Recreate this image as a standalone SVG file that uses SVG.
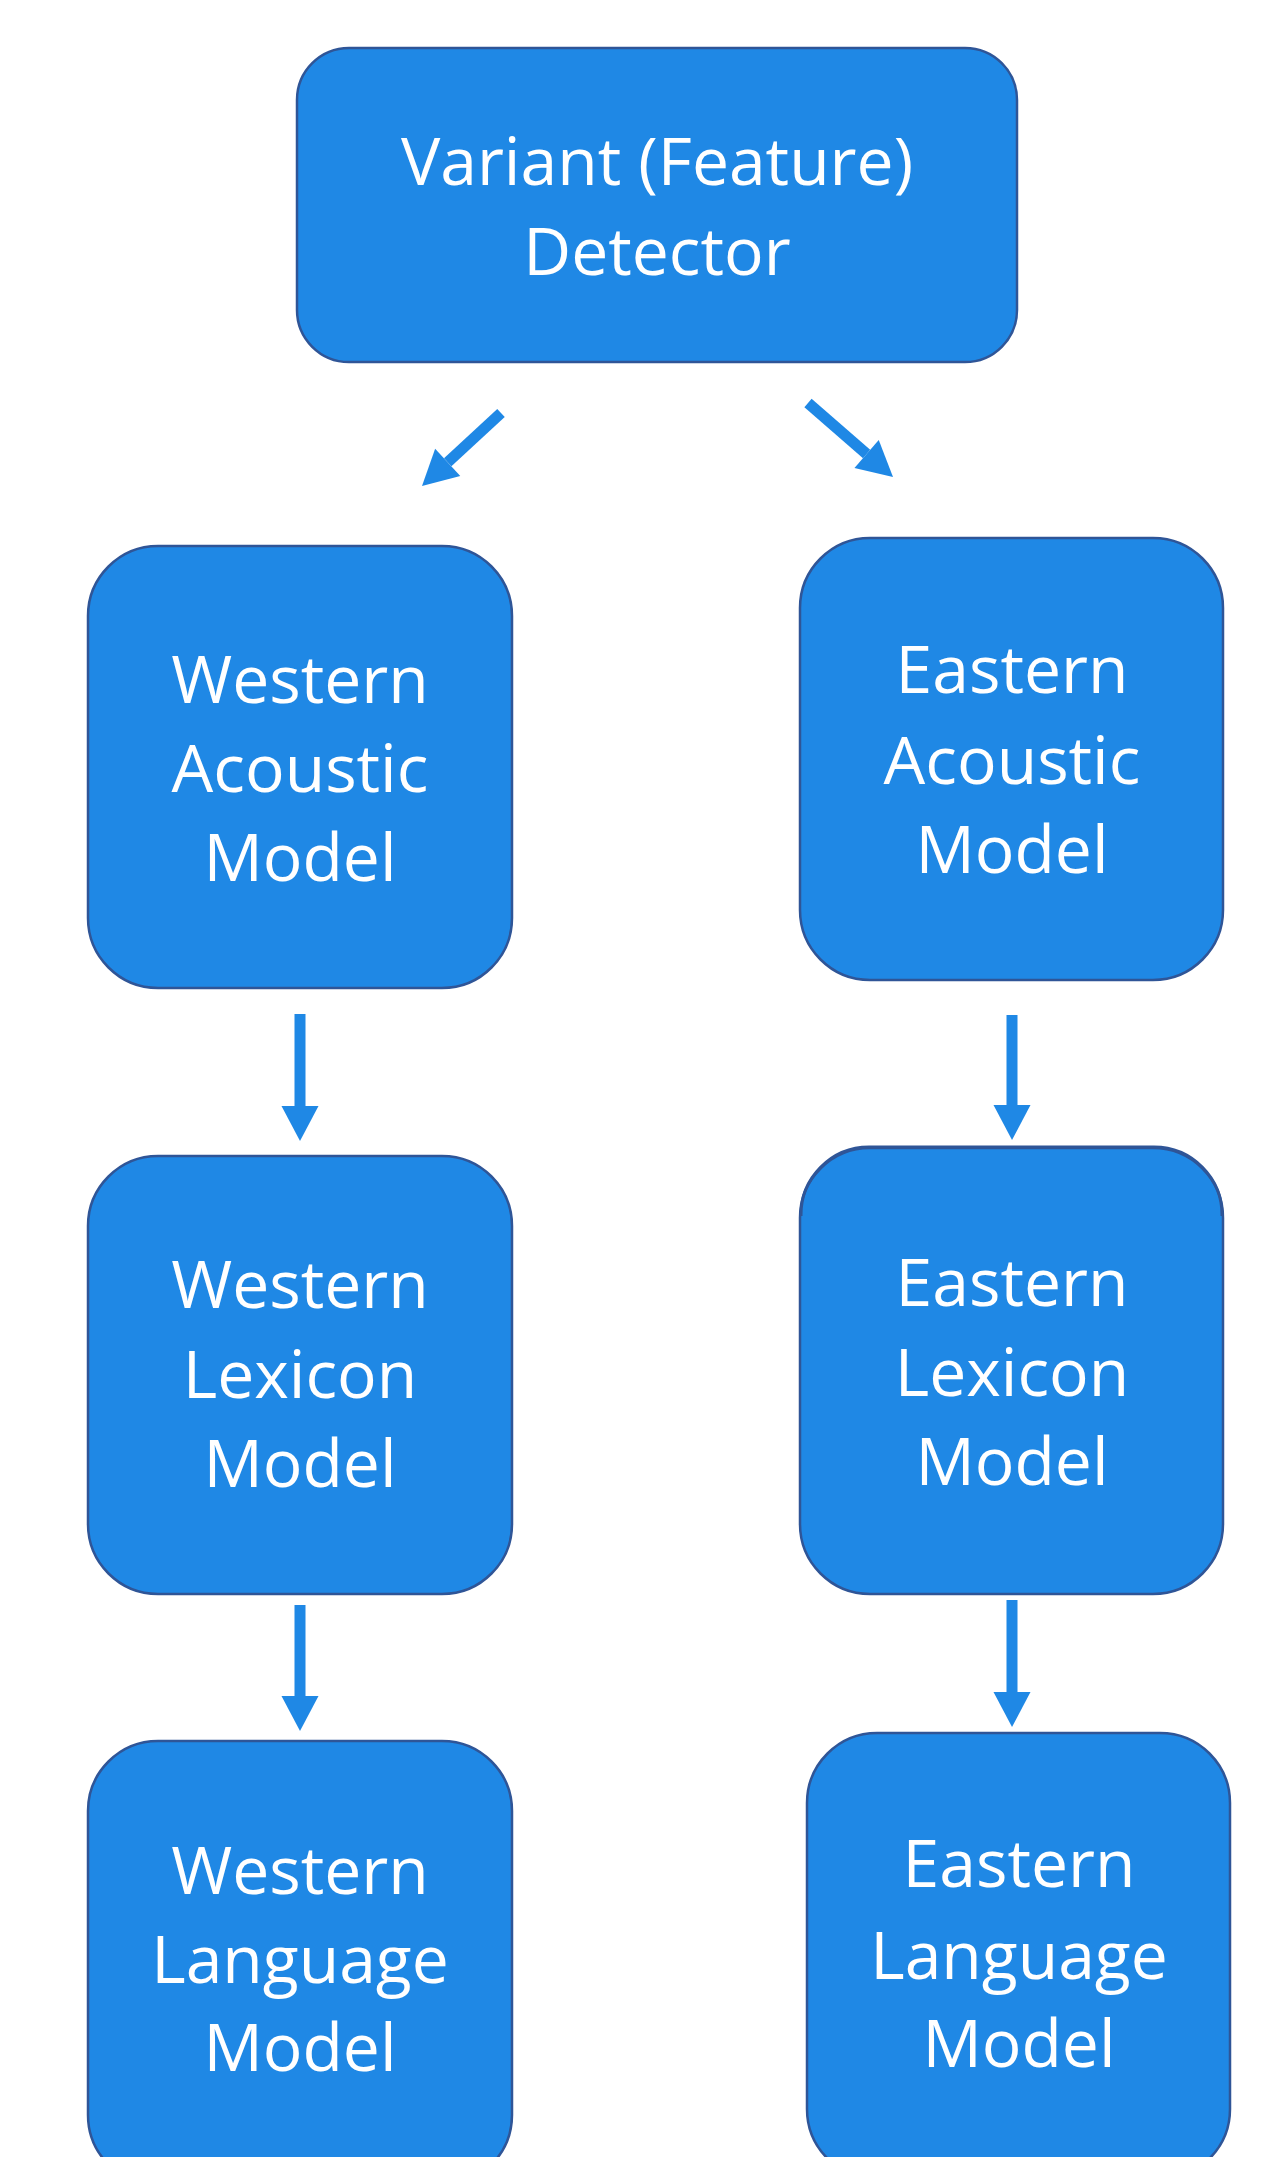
<svg xmlns="http://www.w3.org/2000/svg" width="1273" height="2157" viewBox="0 0 1273 2157">
  <style>
    .box { fill: #1f88e5; stroke: #2f5597; stroke-width: 2.5; }
    .label { font-family: "Open Sans", "Noto Sans", "DejaVu Sans", sans-serif; font-size: 66px; fill: #ffffff; text-anchor: middle; }
    .link { stroke: #1f88e5; stroke-width: 11; fill: none; marker-end: url(#head); }
  </style>
  <defs>
    <marker id="head" markerUnits="userSpaceOnUse" markerWidth="36" markerHeight="38" refX="0" refY="18.5" orient="auto" overflow="visible">
      <path d="M0,0 L35,18.5 L0,37 Z" fill="#1f88e5"/>
    </marker>
  </defs>
  <rect width="1273" height="2157" fill="#ffffff"/>

  <!-- connectors -->
  <g id="connectors">
    <line class="link" x1="501" y1="413" x2="447.7" y2="462.3"/>
    <line class="link" x1="808" y1="403" x2="866.6" y2="454"/>
    <line class="link" x1="300" y1="1014" x2="300" y2="1106"/>
    <line class="link" x1="1012" y1="1015" x2="1012" y2="1105"/>
    <line class="link" x1="300" y1="1605" x2="300" y2="1696"/>
    <line class="link" x1="1012" y1="1600" x2="1012" y2="1692"/>
  </g>

  <g id="variant-detector">
    <rect class="box" x="297" y="48" width="720" height="314" rx="52" ry="52"/>
    <text class="label" x="657" y="185">Variant (Feature)</text>
    <text class="label" x="657" y="275">Detector</text>
  </g>

  <g id="western-acoustic">
    <rect class="box" x="88" y="546" width="424" height="442" rx="70" ry="70"/>
    <text class="label" x="300" y="703">Western</text>
    <text class="label" x="300" y="792">Acoustic</text>
    <text class="label" x="300" y="881">Model</text>
  </g>

  <g id="eastern-acoustic">
    <rect class="box" x="800" y="538" width="423" height="442" rx="70" ry="70"/>
    <text class="label" x="1012" y="693">Eastern</text>
    <text class="label" x="1012" y="784">Acoustic</text>
    <text class="label" x="1012" y="873">Model</text>
  </g>

  <g id="western-lexicon">
    <rect class="box" x="88" y="1156" width="424" height="438" rx="70" ry="70"/>
    <text class="label" x="300" y="1308">Western</text>
    <text class="label" x="300" y="1398">Lexicon</text>
    <text class="label" x="300" y="1487">Model</text>
  </g>

  <g id="eastern-lexicon">
    <rect class="box" x="800" y="1148" width="423" height="446" rx="70" ry="70"/>
    <!-- doubled outline along the top edge -->
    <path d="M801,1216 A68,68 0 0 1 869,1147 L1154,1147 A68,68 0 0 1 1222,1216" fill="none" stroke="#2f5597" stroke-width="3"/>
    <text class="label" x="1012" y="1306">Eastern</text>
    <text class="label" x="1012" y="1396">Lexicon</text>
    <text class="label" x="1012" y="1485">Model</text>
  </g>

  <g id="western-language">
    <rect class="box" x="88" y="1741" width="424" height="444" rx="70" ry="70"/>
    <text class="label" x="300" y="1894">Western</text>
    <text class="label" x="300" y="1983">Language</text>
    <text class="label" x="300" y="2071">Model</text>
  </g>

  <g id="eastern-language">
    <rect class="box" x="807" y="1733" width="423" height="446" rx="70" ry="70"/>
    <text class="label" x="1019" y="1887">Eastern</text>
    <text class="label" x="1019" y="1979">Language</text>
    <text class="label" x="1019" y="2067">Model</text>
  </g>
</svg>
